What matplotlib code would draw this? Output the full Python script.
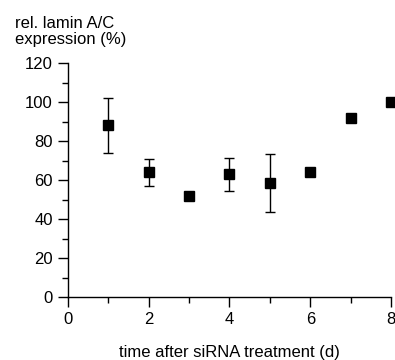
import matplotlib.pyplot as plt
from matplotlib.ticker import MultipleLocator

plt.rcParams['font.family'] = ['Liberation Sans', 'DejaVu Sans']

# data
days = [1, 2, 3, 4, 5, 6, 7, 8]
expression = [88, 64, 52, 63, 58.5, 64, 92, 100]
error = [14, 7, 2, 8.5, 15, 0, 0, 1.5]

fig = plt.figure(figsize=(3.95, 3.6), dpi=100)
ax = fig.add_axes([0.172, 0.175, 0.818, 0.65])

ax.errorbar(days, expression, yerr=error, fmt='s', color='black',
            markersize=6.5, ecolor='black', elinewidth=1, capsize=3.5,
            capthick=1, clip_on=False, zorder=3)

ax.set_xlim(0, 8)
ax.set_ylim(0, 120)
ax.xaxis.set_major_locator(MultipleLocator(2))
ax.xaxis.set_minor_locator(MultipleLocator(1))
ax.yaxis.set_major_locator(MultipleLocator(20))
ax.yaxis.set_minor_locator(MultipleLocator(10))

for s in ['top', 'right']:
    ax.spines[s].set_visible(False)
for s in ['left', 'bottom']:
    ax.spines[s].set_linewidth(1)

ax.tick_params(which='major', length=7, width=1, labelsize=12, pad=4)
ax.tick_params(which='minor', length=4.5, width=1)

fig.text(0.038, 0.955, 'rel. lamin A/C\nexpression (%)', fontsize=12,
         ha='left', va='top', linespacing=1.1)
ax.set_xlabel('time after siRNA treatment (d)', fontsize=12, labelpad=13)

fig.savefig('out.png', dpi=100)
